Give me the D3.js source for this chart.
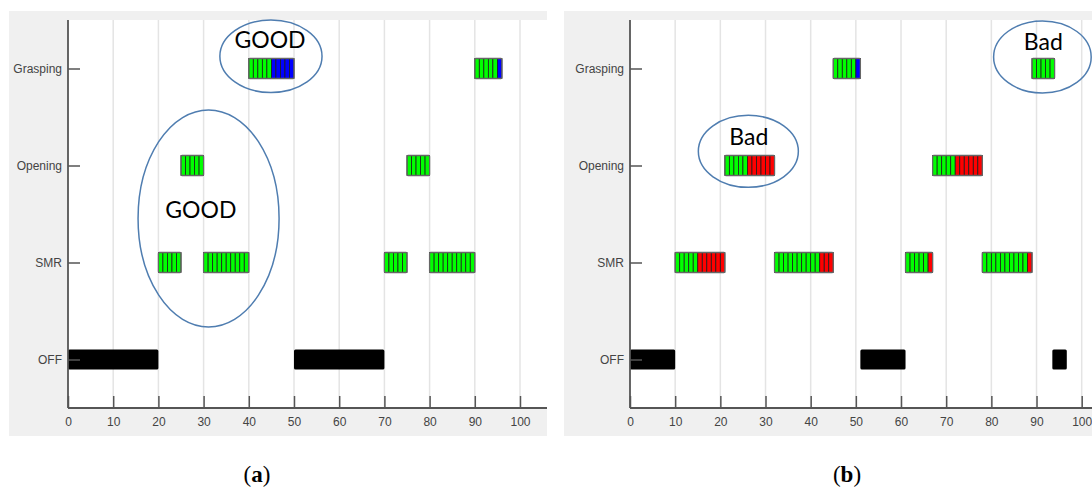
<!DOCTYPE html>
<html>
<head>
<meta charset="utf-8">
<script src="https://cdn.jsdelivr.net/npm/d3@7"></script>
<style>
  body { margin: 0; background: #fff; }
</style>
</head>
<body>
<div id="wrapper"></div>
<script>
const categories = ["OFF", "SMR", "Opening", "Grasping"];
const xTicks = [0, 10, 20, 30, 40, 50, 60, 70, 80, 90, 100];

// OFF periods: [start, end]
const offA = [[0, 20], [50, 70]];
const offB = [[0, 10], [51, 61], [93.5, 96.7]];

// striped blocks: [row, start, greenEnd, end, tail colour]
const blocksA = [
  ["Grasping", 40, 45, 50, "blue"],
  ["Grasping", 90, 95, 96, "blue"],
  ["Opening", 25, 30, 30, null],
  ["Opening", 75, 80, 80, null],
  ["SMR", 20, 25, 25, null],
  ["SMR", 30, 40, 40, null],
  ["SMR", 70, 75, 75, null],
  ["SMR", 80, 90, 90, null],
];
const blocksB = [
  ["Grasping", 45, 50, 51, "blue"],
  ["Grasping", 89, 94, 94, null],
  ["Opening", 21, 26, 32, "red"],
  ["Opening", 67, 72, 78, "red"],
  ["SMR", 10, 15, 21, "red"],
  ["SMR", 32, 42, 45, "red"],
  ["SMR", 61, 66, 67, "red"],
  ["SMR", 78, 88, 89, "red"],
];

// annotations in data units (x, row)
const notesA = [
  { text: "GOOD", cx: 44.9, cy: 4.126, rx: 11.3, ry: 0.374, tx: 44.7, ty: 4.21 },
  { text: "GOOD", cx: 31.1, cy: 2.454, rx: 15.6, ry: 1.119, tx: 29.4, ty: 2.459 },
];
const notesB = [
  { text: "Bad", cx: 26.2, cy: 3.146, rx: 11.07, ry: 0.371, tx: 26.3, ty: 3.211 },
  { text: "Bad", cx: 91.3, cy: 4.119, rx: 10.8, ry: 0.371, tx: 91.5, ty: 4.191 },
];

const colors = { green: "#00ff00", blue: "#0000ff", red: "#ff0000" };

const width = 1092, height = 490;
const svg = d3.select("#wrapper").append("svg")
  .attr("width", width).attr("height", height)
  .style("display", "block");

function drawPanel(opt) {
  const plotH = 388;
  const plotW = opt.right - opt.left;
  const bandH = 20;

  svg.append("rect")
    .attr("x", opt.bgLeft).attr("y", 11)
    .attr("width", opt.right - opt.bgLeft).attr("height", 425)
    .attr("fill", "#f0f0f0");

  const g = svg.append("g").attr("transform", `translate(${opt.left},20)`);

  g.append("rect").attr("width", plotW).attr("height", plotH).attr("fill", "#fff");

  const x = d3.scaleLinear().domain([0, 100]).range([0, opt.unit * 100]);
  const y = d3.scaleLinear().domain([0.5, 4.5]).range([plotH, 0]);
  const row = (name) => categories.indexOf(name) + 1;

  // grid
  g.append("g").selectAll("line")
    .data(xTicks.filter((d) => d > 0))
    .enter().append("line")
    .attr("x1", (d) => x(d)).attr("x2", (d) => x(d))
    .attr("y1", 0).attr("y2", plotH)
    .attr("stroke", "#e4e4e4").attr("stroke-width", 1.5);

  // OFF bars
  g.append("g").selectAll("rect")
    .data(opt.off)
    .enter().append("rect")
    .attr("x", (d) => x(d[0]))
    .attr("width", (d) => x(d[1]) - x(d[0]))
    .attr("y", y(row("OFF")) - bandH / 2)
    .attr("height", bandH)
    .attr("rx", 1.5)
    .attr("fill", "#000");

  // striped blocks
  const blocks = g.append("g");
  opt.blocks.forEach((b) => {
    const [name, start, split, end, tail] = b;
    const cy = y(row(name)) - bandH / 2;
    const cells = d3.range(start, end).map((s) => ({
      s: s,
      e: Math.min(s + 1, end),
      c: s < split ? colors.green : colors[tail],
    }));
    blocks.append("g").selectAll("rect")
      .data(cells)
      .enter().append("rect")
      .attr("x", (d) => x(d.s))
      .attr("width", (d) => x(d.e) - x(d.s))
      .attr("y", cy).attr("height", bandH)
      .attr("fill", (d) => d.c)
      .attr("stroke", "#1e1e1e").attr("stroke-width", 0.8);
    blocks.append("rect")
      .attr("x", x(start)).attr("width", x(end) - x(start))
      .attr("y", cy).attr("height", bandH)
      .attr("rx", 1)
      .attr("fill", "none")
      .attr("stroke", "#666").attr("stroke-width", 1.3);
  });

  // axes
  const xAxis = g.append("g")
    .attr("transform", `translate(0,${plotH})`)
    .call(d3.axisBottom(x).tickValues(xTicks).tickSize(-12).tickSizeOuter(0).tickPadding(9));
  const yAxis = g.append("g")
    .call(d3.axisLeft(y).tickValues([1, 2, 3, 4])
      .tickFormat((d) => categories[d - 1])
      .tickSize(-12).tickSizeOuter(0).tickPadding(6));
  [xAxis, yAxis].forEach((a) => {
    a.select(".domain").remove();
    a.selectAll(".tick line").attr("stroke", "#555").attr("stroke-width", 1.5);
    a.selectAll(".tick text")
      .attr("fill", "#444")
      .style("font-family", "'Liberation Sans', Arial, sans-serif")
      .style("font-size", "12px");
  });
  g.append("line").attr("x1", 0).attr("x2", plotW).attr("y1", plotH).attr("y2", plotH)
    .attr("stroke", "#555").attr("stroke-width", 1.8);
  g.append("line").attr("x1", 0).attr("x2", 0).attr("y1", 0).attr("y2", plotH)
    .attr("stroke", "#555").attr("stroke-width", 1.8);

  // annotations
  const notes = g.append("g");
  notes.selectAll("ellipse")
    .data(opt.notes)
    .enter().append("ellipse")
    .attr("cx", (d) => x(d.cx))
    .attr("cy", (d) => y(d.cy))
    .attr("rx", (d) => x(d.rx) - x(0))
    .attr("ry", (d) => y(0) - y(d.ry))
    .attr("fill", "none")
    .attr("stroke", "#4f7db0")
    .attr("stroke-width", 1.5);
  notes.selectAll("text")
    .data(opt.notes)
    .enter().append("text")
    .attr("x", (d) => x(d.tx))
    .attr("y", (d) => y(d.ty))
    .attr("text-anchor", "middle")
    .style("font-family", "Lato, 'Open Sans', sans-serif")
    .style("font-size", "23px")
    .attr("fill", "#000")
    .text((d) => d.text);

  // panel label
  const lab = svg.append("text")
    .attr("x", opt.labelX).attr("y", 482)
    .attr("text-anchor", "middle")
    .style("font-family", "'Liberation Serif', 'DejaVu Serif', serif")
    .style("font-size", "23px");
  lab.append("tspan").text("(");
  lab.append("tspan").attr("font-weight", "bold").text(opt.label);
  lab.append("tspan").text(")");
}

drawPanel({ bgLeft: 9, left: 68, right: 547, unit: 4.52, off: offA, blocks: blocksA, notes: notesA, label: "a", labelX: 257 });
drawPanel({ bgLeft: 564, left: 630, right: 1092, unit: 4.517, off: offB, blocks: blocksB, notes: notesB, label: "b", labelX: 847 });
</script>
</body>
</html>
